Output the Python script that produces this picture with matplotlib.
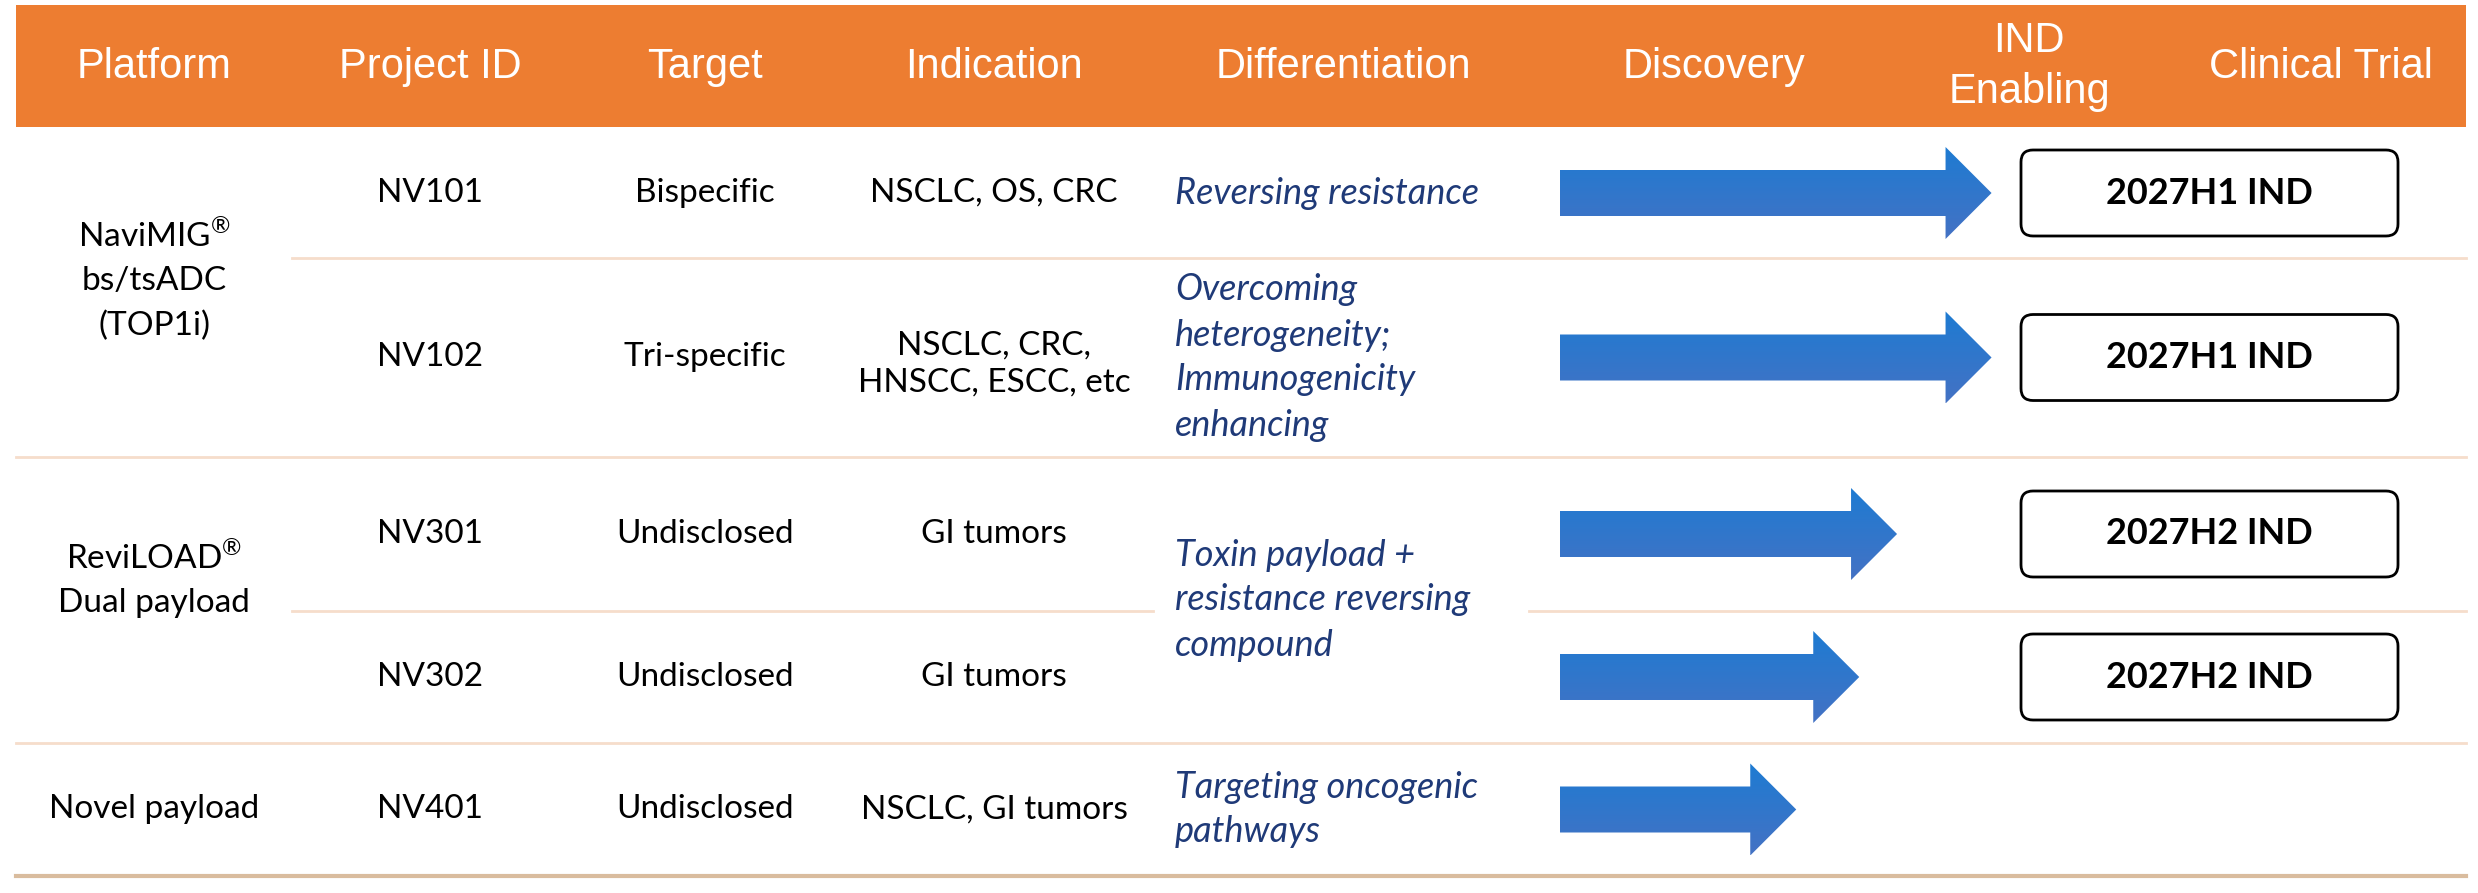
import numpy as np
import matplotlib.pyplot as plt
from matplotlib.patches import Rectangle, Polygon, FancyBboxPatch
from matplotlib.colors import LinearSegmentedColormap

plt.rcParams['mathtext.fontset'] = 'custom'
plt.rcParams['mathtext.rm'] = 'Lato'

# ---- data ----
header_labels = ['Platform', 'Project ID', 'Target', 'Indication', 'Differentiation',
                 'Discovery', 'IND\nEnabling', 'Clinical Trial']
project_ids = ['NV101', 'NV102', 'NV301', 'NV302', 'NV401']
targets = ['Bispecific', 'Tri-specific', 'Undisclosed', 'Undisclosed', 'Undisclosed']
indications = ['NSCLC, OS, CRC', 'NSCLC, CRC,\nHNSCC, ESCC, etc', 'GI tumors',
               'GI tumors', 'NSCLC, GI tumors']
platforms = ['NaviMIG$^{®}$\nbs/tsADC\n(TOP1i)', 'ReviLOAD$^{®}$\nDual payload', 'Novel payload']
platform_rows = [(0, 1), (2, 3), (4, 4)]
differentiation = ['Reversing resistance',
                   'Overcoming\nheterogeneity;\nImmunogenicity\nenhancing',
                   'Toxin payload +\nresistance reversing\ncompound',
                   'Targeting oncogenic\npathways']
diff_rows = [(0, 0), (1, 1), (2, 3), (4, 4)]
# progress in stage units (0 = start of Discovery, 1 = end of Discovery, 2 = end of IND enabling)
progress = [1.37, 1.37, 1.07, 0.95, 0.75]
milestones = ['2027H1 IND', '2027H1 IND', '2027H2 IND', '2027H2 IND', '']

# ---- layout (pixels) ----
W, H = 2478, 893
left, right = 16, 2466
head_top, head_bot = 5, 127
row_edges = [128, 258, 457, 611, 743, 876]
col_x = [154, 430, 705, 994, 1175, 1714, 2029, 2321]
stage_x0, stage_w = 1560, 315
inner_left = 292

orange = '#ED7D31'
navy = '#1F3A78'
line_c = '#F6DDCB'
body_font = 'Lato'
body_size = 24

fig = plt.figure(figsize=(W / 100, H / 100), dpi=100)
ax = fig.add_axes([0, 0, 1, 1])
ax.set_xlim(0, W)
ax.set_ylim(H, 0)
ax.axis('off')


def lines_text(x, yc, txt, spacing, **kw):
    parts = txt.split('\n')
    n = len(parts)
    for i, p in enumerate(parts):
        y = yc + (i - (n - 1) / 2) * spacing
        ax.text(x, y, p, va='center', **kw)


# header
ax.add_patch(Rectangle((left, head_top), right - left, head_bot - head_top,
                       facecolor=orange, edgecolor='none'))
for lab, x in zip(header_labels, col_x):
    hx = 1343 if lab == 'Differentiation' else x
    lines_text(hx, 67, lab, 51, ha='center',
               color='white', fontsize=30, family='Liberation Sans')

centers = [(row_edges[i] + row_edges[i + 1]) / 2 for i in range(len(project_ids))]

# grid lines
ax.plot([inner_left, right], [row_edges[1]] * 2, color=line_c, lw=2)
ax.plot([left, right], [row_edges[2]] * 2, color=line_c, lw=2)
ax.plot([inner_left, 1153], [row_edges[3]] * 2, color=line_c, lw=2)
ax.plot([1529, right], [row_edges[3]] * 2, color=line_c, lw=2)
ax.plot([left, right], [row_edges[4]] * 2, color=line_c, lw=2)
ax.plot([left, right], [row_edges[5]] * 2, color='#D9BC9E', lw=3)

# platform column
plat_shift = [-12, -20, 0]
for txt, (a, b), s in zip(platforms, platform_rows, plat_shift):
    yc = (row_edges[a] + row_edges[b + 1]) / 2 + s
    lines_text(col_x[0], yc, txt, 45, ha='center', color='black',
               fontsize=body_size, family=body_font)

# simple columns
for i, yc in enumerate(centers):
    ax.text(col_x[1], yc, project_ids[i], ha='center', va='center',
            fontsize=body_size, family=body_font, color='black')
    ax.text(col_x[2], yc, targets[i], ha='center', va='center',
            fontsize=body_size, family=body_font, color='black')
    lines_text(col_x[3], yc + 7 * ('\n' in indications[i]), indications[i], 37,
               ha='center', fontsize=body_size, family=body_font, color='black')

# differentiation
for txt, (a, b) in zip(differentiation, diff_rows):
    yc = (row_edges[a] + row_edges[b + 1]) / 2
    lines_text(col_x[4], yc, txt, 45, ha='left', color=navy, fontsize=26,
               family=body_font, style='italic')

# arrows with vertical gradient
cmap = LinearSegmentedColormap.from_list('arr', ['#1E7BD2', '#4472C4'])
grad = np.linspace(0, 1, 64).reshape(-1, 1)
shaft, head, head_len = 23, 46, 46
for i, yc in enumerate(centers):
    tip = stage_x0 + progress[i] * stage_w
    base = tip - head_len
    pts = [(stage_x0, yc - shaft), (base, yc - shaft), (base, yc - head),
           (tip, yc), (base, yc + head), (base, yc + shaft), (stage_x0, yc + shaft)]
    poly = Polygon(pts, closed=True, facecolor='none', edgecolor='none')
    ax.add_patch(poly)
    im = ax.imshow(grad, cmap=cmap, aspect='auto',
                   extent=(stage_x0, tip, yc + head, yc - head), zorder=2)
    im.set_clip_path(poly)

# milestone boxes
box_x0, box_w, box_h = 2021, 377, 86
for i, yc in enumerate(centers):
    if not milestones[i]:
        continue
    ax.add_patch(FancyBboxPatch((box_x0, yc - box_h / 2), box_w, box_h,
                                boxstyle='round,pad=0,rounding_size=12',
                                facecolor='white', edgecolor='black', lw=2))
    ax.text(box_x0 + box_w / 2, yc, milestones[i], ha='center', va='center',
            fontsize=26, weight='bold', family=body_font, color='black')

ax.set_ylim(H, 0)
ax.set_xlim(0, W)
fig.savefig('out.png', dpi=100)
